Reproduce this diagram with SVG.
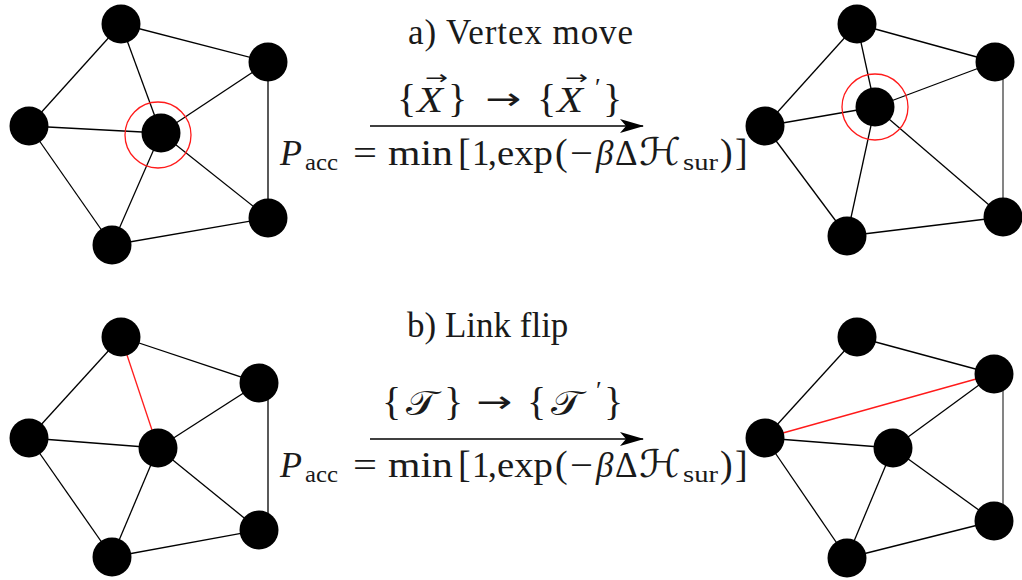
<svg xmlns="http://www.w3.org/2000/svg" width="1022" height="580" viewBox="0 0 1022 580">
<defs>
<style>
.edge{stroke:#000;stroke-width:1.3;fill:none}
.edge-g{stroke:#777;stroke-width:1.8;fill:none}
.red{stroke:#ff1a1a;stroke-width:1.3;fill:none}
.node{fill:#000}
.t{font-family:"Liberation Serif","Times New Roman",Tinos,serif;fill:#1a1a1a}
.h{font-size:35px}
.m{font-size:35px}
.it{font-style:italic}
.sub{font-size:23px}
.scr{font-family:"DejaVu Serif","DejaVu Sans","Noto Sans",serif}
.ar{font-family:"DejaVu Sans","Noto Sans",sans-serif;font-style:normal}
.arr{stroke:#000;stroke-width:1.3}
</style>
<marker id="ah" viewBox="0 0 24 14" refX="23" refY="7" markerWidth="24" markerHeight="14" markerUnits="userSpaceOnUse" orient="auto">
<path d="M0,0 L24,7 L0,14 L6,7 Z" fill="#000"/>
</marker>
</defs>
<rect width="1022" height="580" fill="#fff"/>

<!-- connectors -->
<g id="connectors">
<g id="edges-a-left">
<line class="edge" x1="121" y1="24" x2="268" y2="62"/>
<line class="edge" x1="121" y1="24" x2="29" y2="126"/>
<line class="edge" x1="121" y1="24" x2="161" y2="133"/>
<line class="edge" x1="29" y1="126" x2="161" y2="133"/>
<line class="edge" x1="29" y1="126" x2="112" y2="245"/>
<line class="edge" x1="112" y1="245" x2="161" y2="133"/>
<line class="edge" x1="112" y1="245" x2="268" y2="218"/>
<line class="edge" x1="268" y1="218" x2="161" y2="133"/>
<line class="edge" x1="268" y1="62" x2="161" y2="133"/>
<line class="edge" x1="268" y1="62" x2="268" y2="218"/>
</g>
<g id="edges-a-right">
<line class="edge" x1="857" y1="24" x2="995" y2="62"/>
<line class="edge" x1="857" y1="24" x2="765" y2="126"/>
<line class="edge" x1="857" y1="24" x2="875" y2="107"/>
<line class="edge" x1="765" y1="126" x2="875" y2="107"/>
<line class="edge" x1="765" y1="126" x2="847" y2="236"/>
<line class="edge" x1="847" y1="236" x2="875" y2="107"/>
<line class="edge" x1="847" y1="236" x2="1003" y2="217"/>
<line class="edge" x1="1003" y1="217" x2="875" y2="107"/>
<line class="edge" x1="995" y1="62" x2="875" y2="107"/>
<line class="edge-g" x1="1003" y1="62" x2="1003" y2="217"/>
</g>
<g id="edges-b-left">
<line class="edge" x1="121" y1="337" x2="259" y2="383"/>
<line class="edge" x1="121" y1="337" x2="29" y2="438"/>
<line class="red" x1="121" y1="337" x2="158" y2="448"/>
<line class="edge" x1="29" y1="438" x2="158" y2="448"/>
<line class="edge" x1="29" y1="438" x2="112" y2="557"/>
<line class="edge" x1="112" y1="557" x2="158" y2="448"/>
<line class="edge" x1="112" y1="557" x2="259" y2="530"/>
<line class="edge" x1="259" y1="530" x2="158" y2="448"/>
<line class="edge" x1="259" y1="383" x2="158" y2="448"/>
<line class="edge" x1="268" y1="383" x2="268" y2="530"/>
</g>
<g id="edges-b-right">
<line class="edge" x1="857" y1="337" x2="994" y2="374"/>
<line class="edge" x1="857" y1="337" x2="765" y2="438"/>
<line class="red" x1="765" y1="438" x2="994" y2="374"/>
<line class="edge" x1="765" y1="438" x2="893" y2="448"/>
<line class="edge" x1="765" y1="438" x2="847" y2="558"/>
<line class="edge" x1="847" y1="558" x2="893" y2="448"/>
<line class="edge" x1="847" y1="558" x2="994" y2="521"/>
<line class="edge" x1="994" y1="521" x2="893" y2="448"/>
<line class="edge" x1="994" y1="374" x2="893" y2="448"/>
<line class="edge-g" x1="1003" y1="374" x2="1003" y2="521"/>
</g>
<line id="arrow-a" class="arr" x1="370" y1="126" x2="643" y2="126" marker-end="url(#ah)"/>
<line id="arrow-b" class="arr" x1="370" y1="439" x2="643" y2="439" marker-end="url(#ah)"/>
</g>

<g id="a-left">
<circle class="red" cx="158" cy="135" r="33"/>
<circle id="a-l-top" class="node" cx="121" cy="24" r="19.5"/>
<circle id="a-l-ur" class="node" cx="268" cy="62" r="19.5"/>
<circle id="a-l-left" class="node" cx="29" cy="126" r="19.5"/>
<circle id="a-l-center" class="node" cx="161" cy="133" r="19.5"/>
<circle id="a-l-lr" class="node" cx="268" cy="218" r="19.5"/>
<circle id="a-l-bottom" class="node" cx="112" cy="245" r="19.5"/>
</g>
<g id="a-right">
<circle class="red" cx="875" cy="107" r="33"/>
<circle id="a-r-top" class="node" cx="857" cy="24" r="19.5"/>
<circle id="a-r-ur" class="node" cx="995" cy="62" r="19.5"/>
<circle id="a-r-left" class="node" cx="765" cy="126" r="19.5"/>
<circle id="a-r-center" class="node" cx="875" cy="107" r="19.5"/>
<circle id="a-r-lr" class="node" cx="1003" cy="217" r="19.5"/>
<circle id="a-r-bottom" class="node" cx="847" cy="236" r="19.5"/>
</g>
<g id="b-left">
<circle id="b-l-top" class="node" cx="121" cy="337" r="19.5"/>
<circle id="b-l-ur" class="node" cx="259" cy="383" r="19.5"/>
<circle id="b-l-left" class="node" cx="29" cy="438" r="19.5"/>
<circle id="b-l-center" class="node" cx="158" cy="448" r="19.5"/>
<circle id="b-l-lr" class="node" cx="259" cy="530" r="19.5"/>
<circle id="b-l-bottom" class="node" cx="112" cy="557" r="19.5"/>
</g>
<g id="b-right">
<circle id="b-r-top" class="node" cx="857" cy="337" r="19.5"/>
<circle id="b-r-ur" class="node" cx="994" cy="374" r="19.5"/>
<circle id="b-r-left" class="node" cx="765" cy="438" r="19.5"/>
<circle id="b-r-center" class="node" cx="893" cy="448" r="19.5"/>
<circle id="b-r-lr" class="node" cx="994" cy="521" r="19.5"/>
<circle id="b-r-bottom" class="node" cx="847" cy="558" r="19.5"/>
</g>

<g id="label-a">
<text class="t h" x="408" y="44" textLength="225" lengthAdjust="spacing">a) Vertex move</text>
<text class="t m" y="112">
<tspan x="397" font-size="40">{</tspan>
<tspan x="425" y="84" class="ar" font-size="19" textLength="23" lengthAdjust="spacingAndGlyphs">→</tspan>
<tspan x="417" y="112" class="it" font-size="36" textLength="26" lengthAdjust="spacingAndGlyphs">X</tspan>
<tspan x="448" font-size="40">}</tspan>
<tspan x="485" y="109" class="ar" font-size="30" textLength="36" lengthAdjust="spacingAndGlyphs">→</tspan>
<tspan x="537" y="112" font-size="40">{</tspan>
<tspan x="565" y="84" class="ar" font-size="19" textLength="23" lengthAdjust="spacingAndGlyphs">→</tspan>
<tspan x="557" y="112" class="it" font-size="36" textLength="26" lengthAdjust="spacingAndGlyphs">X</tspan>
<tspan x="595" y="96" font-size="26">′</tspan>
<tspan x="603" y="112" font-size="40">}</tspan>
</text>
<text class="t m" y="165">
<tspan x="280" class="it" font-size="36">P</tspan>
<tspan x="305" y="170" class="sub" textLength="33" lengthAdjust="spacingAndGlyphs">acc</tspan>
<tspan x="353" y="165" textLength="24" lengthAdjust="spacingAndGlyphs">=</tspan>
<tspan x="388" textLength="65" lengthAdjust="spacingAndGlyphs">min</tspan>
<tspan x="458" font-size="38">[</tspan>
<tspan x="472">1</tspan>
<tspan x="488">,</tspan>
<tspan x="497" textLength="56" lengthAdjust="spacingAndGlyphs">exp</tspan>
<tspan x="555" font-size="38">(</tspan>
<tspan x="570" textLength="23" lengthAdjust="spacingAndGlyphs">−</tspan>
<tspan x="596" class="it">β</tspan>
<tspan x="615">Δ</tspan>
<tspan x="639" class="scr" font-size="38" textLength="42" lengthAdjust="spacingAndGlyphs">ℋ</tspan>
<tspan x="683" y="170" class="sub" textLength="35" lengthAdjust="spacingAndGlyphs">sur</tspan>
<tspan x="720" y="165" font-size="38">)</tspan>
<tspan x="735" font-size="38">]</tspan>
</text>
</g>

<g id="label-b">
<text class="t h" x="407" y="337">b) Link flip</text>
<text class="t m" y="415">
<tspan x="382" font-size="40">{</tspan>
<tspan x="406" class="scr" font-size="34" textLength="31" lengthAdjust="spacingAndGlyphs">𝒯</tspan>
<tspan x="444" font-size="40">}</tspan>
<tspan x="476" y="412" class="ar" font-size="30" textLength="36" lengthAdjust="spacingAndGlyphs">→</tspan>
<tspan x="527" y="415" font-size="40">{</tspan>
<tspan x="551" class="scr" font-size="34" textLength="31" lengthAdjust="spacingAndGlyphs">𝒯</tspan>
<tspan x="596" y="399" font-size="26">′</tspan>
<tspan x="604" y="415" font-size="40">}</tspan>
</text>
<text class="t m" y="477">
<tspan x="280" class="it" font-size="36">P</tspan>
<tspan x="305" y="482" class="sub" textLength="33" lengthAdjust="spacingAndGlyphs">acc</tspan>
<tspan x="353" y="477" textLength="24" lengthAdjust="spacingAndGlyphs">=</tspan>
<tspan x="388" textLength="65" lengthAdjust="spacingAndGlyphs">min</tspan>
<tspan x="458" font-size="38">[</tspan>
<tspan x="472">1</tspan>
<tspan x="488">,</tspan>
<tspan x="497" textLength="56" lengthAdjust="spacingAndGlyphs">exp</tspan>
<tspan x="555" font-size="38">(</tspan>
<tspan x="570" textLength="23" lengthAdjust="spacingAndGlyphs">−</tspan>
<tspan x="596" class="it">β</tspan>
<tspan x="615">Δ</tspan>
<tspan x="639" class="scr" font-size="38" textLength="42" lengthAdjust="spacingAndGlyphs">ℋ</tspan>
<tspan x="683" y="482" class="sub" textLength="35" lengthAdjust="spacingAndGlyphs">sur</tspan>
<tspan x="720" y="477" font-size="38">)</tspan>
<tspan x="735" font-size="38">]</tspan>
</text>
</g>
</svg>
